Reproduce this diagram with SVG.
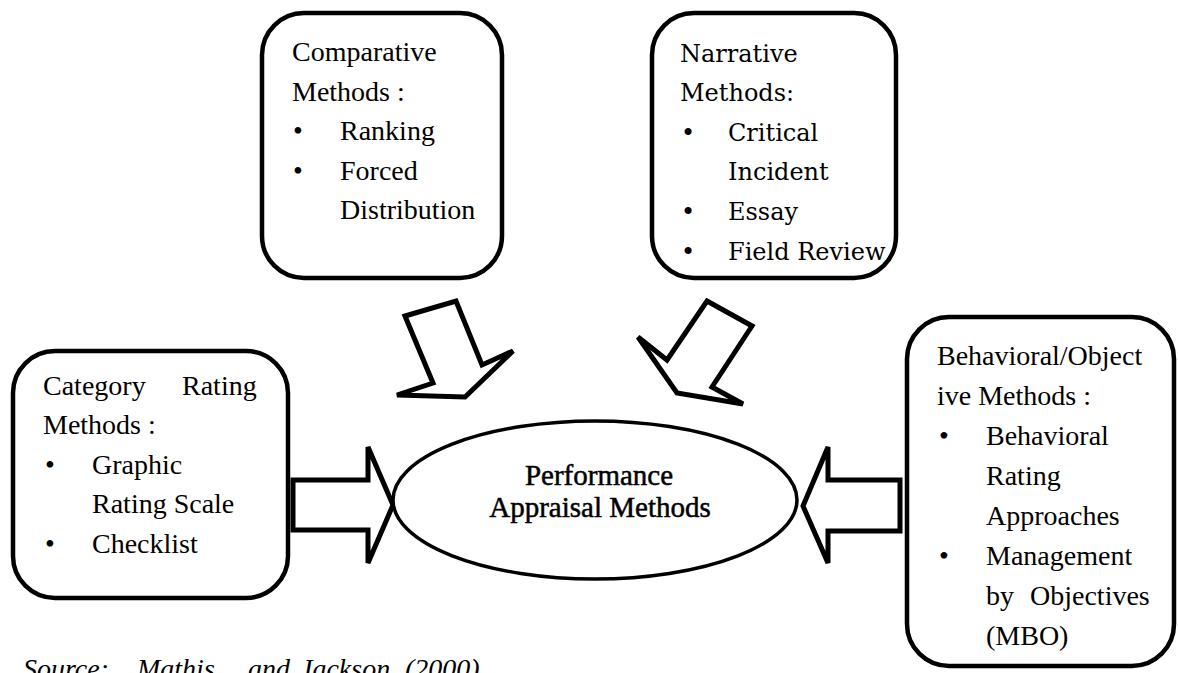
<svg xmlns="http://www.w3.org/2000/svg" width="1178" height="673" viewBox="0 0 1178 673">
<style>
.box{fill:#fff;stroke:#000;stroke-width:4.5}
.arr{fill:#fff;stroke:#000;stroke-width:5;stroke-linejoin:miter}
</style>
<rect width="1178" height="673" fill="#fff"/>
<g id="connectors">
<polygon class="arr" points="293,480 368,480 368,447 393,505 368,563 368,530 293,530"/>
<polygon class="arr" points="900,480 828,480 828,447 803,506 828,563 828,531 900,531"/>
<polygon class="arr" points="405,316 456,301 482,365 513,351 465,397 397,395 433,383"/>
<polygon class="arr" points="707,301 752,326 712,387 743,404 677,393 638,337 667,360"/>
</g>
<g id="comparative">
<rect class="box" x="262" y="13" width="240" height="265" rx="42"/>
</g>
<text font-family="Liberation Serif" font-size="28" x="292" y="61">Comparative</text>
<text font-family="Liberation Serif" font-size="28" x="292" y="100.5">Methods :</text>
<text font-family="Liberation Serif" font-size="28" x="293" y="140">•</text>
<text font-family="Liberation Serif" font-size="28" x="340" y="140">Ranking</text>
<text font-family="Liberation Serif" font-size="28" x="293" y="179.5">•</text>
<text font-family="Liberation Serif" font-size="28" x="340" y="179.5">Forced</text>
<text font-family="Liberation Serif" font-size="28" x="340" y="219">Distribution</text>
<g id="narrative">
<rect class="box" x="652" y="13" width="244" height="265" rx="42"/>
<text font-family="DejaVu Serif" font-size="24" x="680" y="62">Narrative</text>
<text font-family="DejaVu Serif" font-size="24" x="680" y="101">Methods:</text>
<text font-family="DejaVu Serif" font-size="24" x="681" y="140.5">•</text>
<text font-family="DejaVu Serif" font-size="24" x="728" y="140.5">Critical</text>
<text font-family="DejaVu Serif" font-size="24" x="728" y="180">Incident</text>
<text font-family="DejaVu Serif" font-size="24" x="681" y="220">•</text>
<text font-family="DejaVu Serif" font-size="24" x="728" y="220">Essay</text>
<text font-family="DejaVu Serif" font-size="24" x="681" y="259.5">•</text>
<text font-family="DejaVu Serif" font-size="24" x="728" y="259.5">Field Review</text>
</g>
<g id="category">
<rect class="box" x="13" y="351" width="275" height="247" rx="42"/>
<text font-family="serif" font-size="28" x="43" y="395">Category</text>
<text font-family="serif" font-size="28" x="182" y="395">Rating</text>
<text font-family="serif" font-size="28" x="43" y="434">Methods :</text>
<text font-family="serif" font-size="28" x="45" y="473.5">•</text>
<text font-family="serif" font-size="28" x="92" y="473.5">Graphic</text>
<text font-family="serif" font-size="28" x="92" y="513">Rating Scale</text>
<text font-family="serif" font-size="28" x="45" y="552.5">•</text>
<text font-family="serif" font-size="28" x="92" y="552.5">Checklist</text>
</g>
<g id="center">
<ellipse cx="595" cy="500" rx="202" ry="79" fill="#fff" stroke="#000" stroke-width="3.5"/>
<text font-family="Liberation Serif" font-size="29" stroke="#000" stroke-width="0.5" text-anchor="middle" x="599" y="485">Performance</text>
<text font-family="Liberation Serif" font-size="29" stroke="#000" stroke-width="0.5" text-anchor="middle" x="600" y="517">Appraisal Methods</text>
</g>
<g id="behavioral">
<rect class="box" x="907" y="317" width="267" height="349" rx="42"/>
<text font-family="Times New Roman" font-size="28" x="937" y="365">Behavioral/Object</text>
<text font-family="Times New Roman" font-size="28" x="937" y="405">ive Methods :</text>
<text font-family="Times New Roman" font-size="28" x="939" y="445">•</text>
<text font-family="Times New Roman" font-size="28" x="986" y="445">Behavioral</text>
<text font-family="Times New Roman" font-size="28" x="986" y="485">Rating</text>
<text font-family="Times New Roman" font-size="28" x="986" y="525">Approaches</text>
<text font-family="Times New Roman" font-size="28" x="939" y="565">•</text>
<text font-family="Times New Roman" font-size="28" x="986" y="565">Management</text>
<text font-family="Times New Roman" font-size="28" x="986" y="605">by</text>
<text font-family="Times New Roman" font-size="28" x="1030" y="605">Objectives</text>
<text font-family="Times New Roman" font-size="28" x="986" y="645">(MBO)</text>
</g>
<g id="source">
<text font-family="Liberation Serif" font-size="28" font-style="italic" x="23" y="678">Source:</text>
<text font-family="Liberation Serif" font-size="28" font-style="italic" x="137" y="678">Mathis</text>
<text font-family="Liberation Serif" font-size="28" font-style="italic" x="248" y="678">and</text>
<text font-family="Liberation Serif" font-size="28" font-style="italic" x="300" y="678">Jackson</text>
<text font-family="Liberation Serif" font-size="28" font-style="italic" x="405" y="678">(2000)</text>
</g>
</svg>
